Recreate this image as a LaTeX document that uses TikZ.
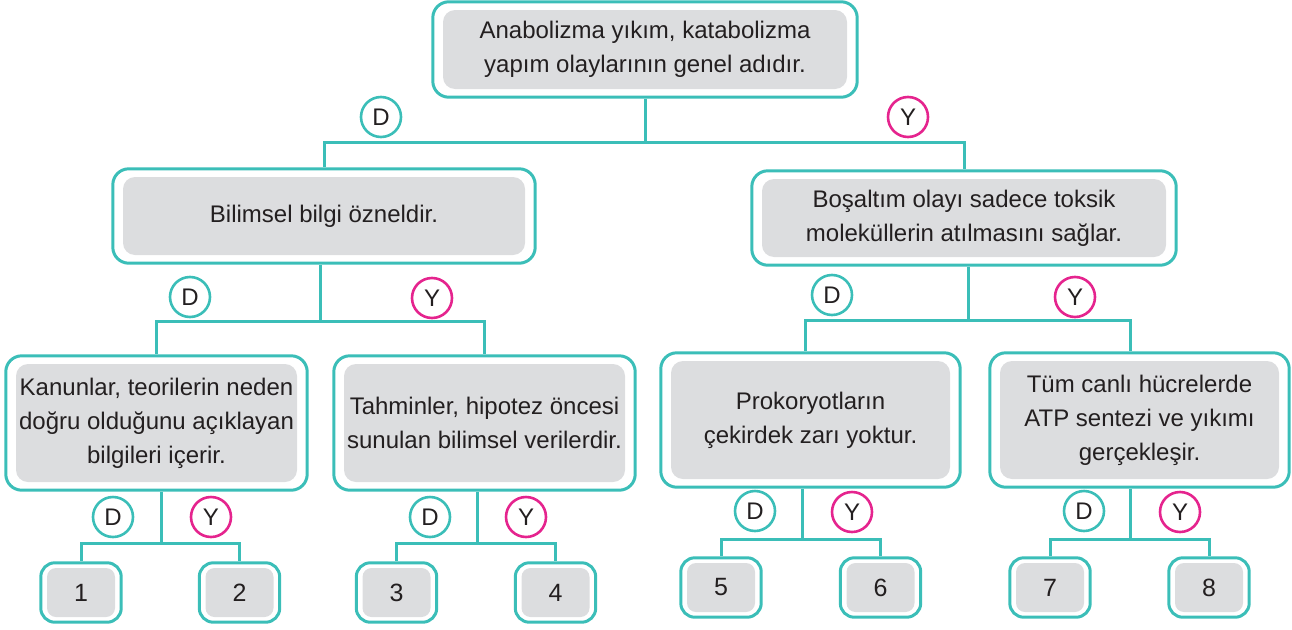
\documentclass[tikz,border=0pt]{standalone}
\usepackage{fontspec}
\setmainfont{Liberation Sans}
\usetikzlibrary{fit}
\definecolor{tealline}{RGB}{59,190,184}
\definecolor{pinkline}{RGB}{229,36,142}
\definecolor{boxgray}{RGB}{220,221,223}
\definecolor{ink}{RGB}{35,31,32}
\newcommand{\bxfont}{\fontsize{24}{34}\selectfont}

\begin{document}
\begin{tikzpicture}[x=1pt,y=-1pt]
    \tikzset{
        inbox/.style={fill=boxgray, rounded corners=12pt, align=center, inner sep=0pt, text=ink, font=\bxfont},
        outbox/.style={draw=tealline, line width=3pt, rounded corners=16pt, inner xsep=10pt, inner ysep=8pt},
        leafin/.style={inbox, rounded corners=9pt, minimum width=68pt, minimum height=49pt, font=\fontsize{25}{30}\selectfont},
        leafout/.style={outbox, rounded corners=14pt, inner xsep=6pt, inner ysep=5pt},
        dnode/.style={circle, draw=tealline, line width=2.6pt, minimum size=40pt, inner sep=0pt, text=ink, font=\bxfont},
        ynode/.style={dnode, draw=pinkline},
        conn/.style={draw=tealline, line width=3pt}
    }
    \useasboundingbox (0,0) rectangle (1292,629);

    % question boxes
    \node[inbox, minimum width=404pt, minimum height=79pt] (t) at (645,49.5)
        {Anabolizma yıkım, katabolizma\\yapım olaylarının genel adıdır.};
    \node[inbox, minimum width=402pt, minimum height=78pt] (l) at (324,216)
        {Bilimsel bilgi özneldir.};
    \node[inbox, minimum width=404pt, minimum height=78pt] (r) at (964,218)
        {Boşaltım olayı sadece toksik\\moleküllerin atılmasını sağlar.};
    \node[inbox, minimum width=281pt, minimum height=118pt] (a) at (156.5,423)
        {Kanunlar, teorilerin neden\\doğru olduğunu açıklayan\\bilgileri içerir.};
    \node[inbox, minimum width=281pt, minimum height=118pt] (b) at (484.5,423)
        {Tahminler, hipotez öncesi\\sunulan bilimsel verilerdir.};
    \node[inbox, minimum width=279pt, minimum height=118pt] (c) at (810.5,420)
        {Prokoryotların\\çekirdek zarı yoktur.};
    \node[inbox, minimum width=279pt, minimum height=118pt] (d) at (1139.5,420)
        {Tüm canlı hücrelerde\\ATP sentezi ve yıkımı\\gerçekleşir.};
    \foreach \q in {t,l,r,a,b,c,d}{
        \node[outbox, fit=(\q)] (\q box) {};
    }

    % exits
    \foreach \n/\x/\y in {1/81/592.5, 2/239.5/592.5, 3/396.5/592.5, 4/555.5/592.5,
                          5/721/587.5, 6/880.5/587.5, 7/1050/587.5, 8/1209/587.5}{
        \node[leafin] (e\n) at (\x,\y) {\n};
        \node[leafout, fit=(e\n)] (e\n box) {};
    }

    % junctions
    \coordinate (jt) at (645,142);
    \coordinate (jl) at (320,321);
    \coordinate (jr) at (968,320);
    \coordinate (ja) at (161,543);
    \coordinate (jb) at (477,543);
    \coordinate (jc) at (802,539);
    \coordinate (jd) at (1130,539);

    \draw[conn] (tbox.south -| jt) -- (jt);
    \draw[conn] (jt) -| (lbox.north);
    \draw[conn] (jt) -| (rbox.north);
    \draw[conn] (lbox.south -| jl) -- (jl);
    \draw[conn] (jl) -| (abox.north);
    \draw[conn] (jl) -| (bbox.north);
    \draw[conn] (rbox.south -| jr) -- (jr);
    \draw[conn] (jr) -| ([xshift=-5pt]cbox.north);
    \draw[conn] (jr) -| ([xshift=-9.5pt]dbox.north);
    \draw[conn] (abox.south -| ja) -- (ja);
    \draw[conn] (ja) -| (e1box.north);
    \draw[conn] (ja) -| (e2box.north);
    \draw[conn] (bbox.south -| jb) -- (jb);
    \draw[conn] (jb) -| (e3box.north);
    \draw[conn] (jb) -| (e4box.north);
    \draw[conn] (cbox.south -| jc) -- (jc);
    \draw[conn] (jc) -| (e5box.north);
    \draw[conn] (jc) -| (e6box.north);
    \draw[conn] (dbox.south -| jd) -- (jd);
    \draw[conn] (jd) -| (e7box.north);
    \draw[conn] (jd) -| (e8box.north);

    % D / Y marks
    \foreach \m/\x/\y in {t/381/117, l/190/297, r/832/295, a/113/517,
                          b/430/517, c/755/511, d/1084/511}{
        \node[dnode] (d\m) at (\x,\y) {D};
    }
    \foreach \m/\x/\y in {t/908/117, l/432/298, r/1075/297, a/211/517,
                          b/526/517, c/852/512, d/1180/512}{
        \node[ynode] (y\m) at (\x,\y) {Y};
    }
\end{tikzpicture}
\end{document}
